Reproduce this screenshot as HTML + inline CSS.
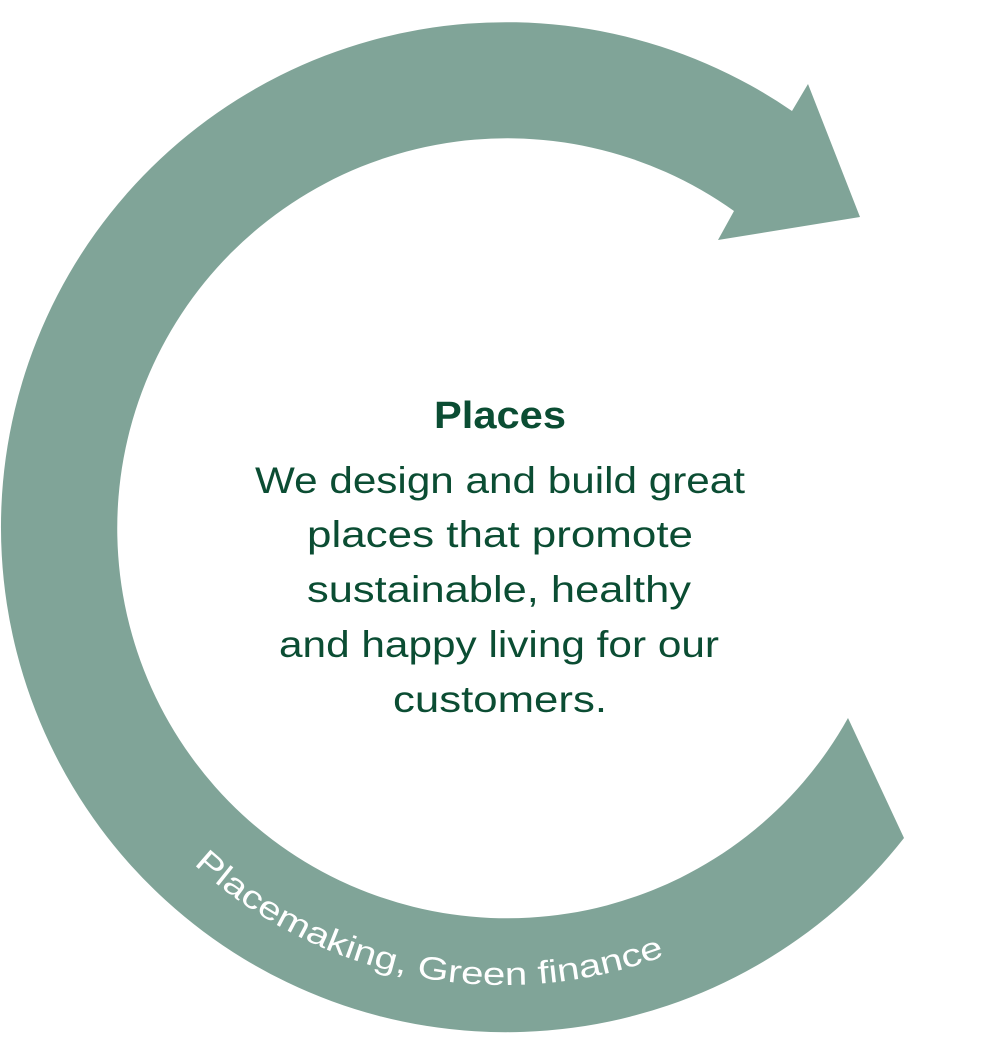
<!DOCTYPE html>
<html><head><meta charset="utf-8"><style>html,body{margin:0;padding:0;background:#fff;}svg{display:block}</style></head>
<body>
<svg width="1000" height="1042" viewBox="0 0 1000 1042" xmlns="http://www.w3.org/2000/svg">
<path d="M 904,838 A 505 505 0 1 1 792,111 L 808,84 L 860,217 L 718,240 L 734,211 A 390 390 0 1 0 848,718 Z" fill="#80a498"/>
<defs><path id="arc" d="M 180,851 A 458 458 0 0 0 798,878"/></defs>
<text font-family="Liberation Sans, sans-serif" font-size="32" fill="#fff"><textPath href="#arc" startOffset="19" textLength="505" lengthAdjust="spacingAndGlyphs">Placemaking, Green finance</textPath></text>
<g font-family="Liberation Sans, sans-serif" fill="#0b4d33" text-anchor="middle">
<text x="500" y="428" font-size="38" font-weight="bold" textLength="132" lengthAdjust="spacingAndGlyphs">Places</text>
<g font-size="37">
<text x="500" y="493" textLength="490" lengthAdjust="spacingAndGlyphs">We design and build great</text>
<text x="500" y="547" textLength="386" lengthAdjust="spacingAndGlyphs">places that promote</text>
<text x="499" y="602" textLength="384" lengthAdjust="spacingAndGlyphs">sustainable, healthy</text>
<text x="499" y="657" textLength="440" lengthAdjust="spacingAndGlyphs">and happy living for our</text>
<text x="500" y="712" textLength="214" lengthAdjust="spacingAndGlyphs">customers.</text>
</g></g>
</svg>
</body></html>
